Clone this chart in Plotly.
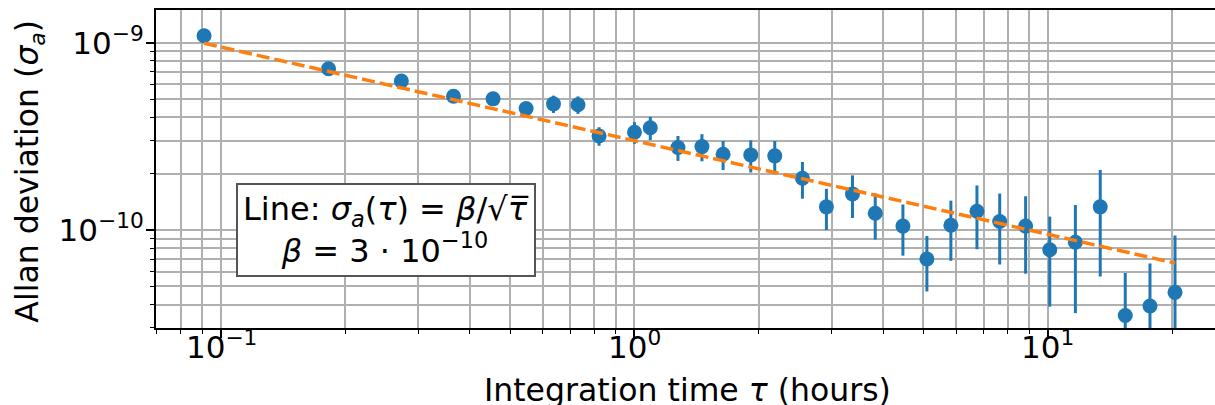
import numpy as np
import plotly.graph_objects as go

# ---- data ----
tau_hours = [0.091, 0.182, 0.273, 0.365, 0.455, 0.547, 0.637, 0.73, 0.821,
             1.0, 1.092, 1.274, 1.456, 1.638, 1.911, 2.184, 2.548, 2.912,
             3.367, 3.822, 4.459, 5.096, 5.824, 6.734, 7.644, 8.83, 10.1,
             11.65, 13.38, 15.38, 17.65, 20.29]
allan_dev = [1.09e-9, 7.26e-10, 6.25e-10, 5.18e-10, 5.02e-10, 4.46e-10,
             4.72e-10, 4.67e-10, 3.18e-10, 3.33e-10, 3.52e-10, 2.76e-10,
             2.79e-10, 2.54e-10, 2.52e-10, 2.49e-10, 1.89e-10, 1.33e-10,
             1.56e-10, 1.23e-10, 1.05e-10, 7.0e-11, 1.06e-10, 1.26e-10,
             1.11e-10, 1.05e-10, 7.85e-11, 8.6e-11, 1.33e-10, 3.5e-11,
             3.93e-11, 4.65e-11]
allan_err = [0.4e-10, 0.3e-10, 0.3e-10, 0.3e-10, 0.3e-10, 0.3e-10, 0.5e-10,
             0.5e-10, 0.36e-10, 0.44e-10, 0.5e-10, 0.42e-10, 0.46e-10,
             0.45e-10, 0.49e-10, 0.5e-10, 0.42e-10, 0.33e-10, 0.40e-10,
             0.34e-10, 0.32e-10, 0.23e-10, 0.375e-10, 0.47e-10, 0.455e-10,
             0.465e-10, 0.395e-10, 0.5e-10, 0.765e-10, 0.24e-10, 0.27e-10,
             0.47e-10]
BETA = 3e-10
fit_tau = [tau_hours[0], tau_hours[-1]]

x_tickvals = [0.1, 1, 10]
x_ticktext = ["10<sup>−1</sup>", "10<sup>0</sup>", "10<sup>1</sup>"]
y_tickvals = [1e-10, 1e-9]
y_ticktext = ["10<sup>−10</sup>", "10<sup>−9</sup>"]

x_title = "Integration time <i>τ</i> (hours)"
y_title = "Allan deviation (<i>σ<sub>a</sub></i>)"
box_text = ("Line: <i>σ<sub>a</sub></i>(<i>τ</i>) = <i>β</i>/√<i>τ̅</i><br>"
            "<i>β</i> = 3 · 10<sup>−10</sup>")

FONT = "DejaVu Sans"
BLUE = "#1f77b4"
ORANGE = "#ff7f0e"
GRID = "#b0b0b0"

fit_vals = [BETA / np.sqrt(t) for t in fit_tau]

fig = go.Figure()
fig.add_trace(go.Scatter(
    x=tau_hours, y=allan_dev, mode="markers",
    marker=dict(color=BLUE, size=15),
    error_y=dict(type="data", array=allan_err, visible=True,
                 color=BLUE, thickness=3, width=0),
    showlegend=False,
))
fig.add_trace(go.Scatter(
    x=fit_tau, y=fit_vals, mode="lines",
    line=dict(color=ORANGE, width=3.5, dash="13px,5px"),
    showlegend=False,
))

minor_x = [k * 10.0 ** e for e in (-2, -1, 0, 1) for k in range(2, 10)]
minor_y = [k * 10.0 ** e for e in (-12, -11, -10, -9) for k in range(2, 10)]

fig.update_xaxes(
    type="log", range=[-1.1572, 1.404],
    tickmode="array", tickvals=x_tickvals,
    ticks="outside", ticklen=8, tickwidth=1.5, tickcolor="black",
    showticklabels=False,
    showgrid=True, gridcolor=GRID, gridwidth=1.5,
    minor=dict(tickmode="array", tickvals=minor_x, ticks="outside",
               ticklen=4, tickwidth=1.2, tickcolor="black",
               showgrid=True, gridcolor=GRID, gridwidth=1.5),
    showline=True, linecolor="black", linewidth=2, mirror=True,
    zeroline=False,
)
fig.update_yaxes(
    type="log", range=[-10.523, -8.825],
    tickmode="array", tickvals=y_tickvals, ticktext=y_ticktext,
    ticks="outside", ticklen=8, tickwidth=1.5, tickcolor="black",
    ticklabelstandoff=-4,
    showgrid=True, gridcolor=GRID, gridwidth=1.5,
    minor=dict(tickmode="array", tickvals=minor_y, ticks="outside",
               ticklen=4, tickwidth=1.2, tickcolor="black",
               showgrid=True, gridcolor=GRID, gridwidth=1.5),
    showline=True, linecolor="black", linewidth=2, mirror=False,
    zeroline=False,
    tickfont=dict(family=FONT, size=31, color="black"),
)

# x tick labels (placed as text at the decade ticks)
for v, t in zip(x_tickvals, x_ticktext):
    fig.add_annotation(
        xref="x", yref="paper", x=np.log10(v), y=-0.053,
        xanchor="center", yanchor="middle", showarrow=False,
        text=t, font=dict(family=FONT, size=31, color="black"),
    )

# axis titles
fig.add_annotation(
    xref="paper", yref="paper", x=0.502, y=-0.196,
    xanchor="center", yanchor="middle", showarrow=False,
    text=x_title, font=dict(family=FONT, size=31.5, color="black"),
)
fig.add_annotation(
    xref="paper", yref="paper", x=-0.119, y=0.4947,
    xanchor="center", yanchor="middle", showarrow=False, textangle=-90,
    text=y_title, font=dict(family=FONT, size=31.5, color="black"),
)

fig.add_annotation(
    xref="paper", yref="paper", x=0.2175, y=0.307,
    xanchor="center", yanchor="middle", align="center",
    text=box_text, showarrow=False,
    font=dict(family=FONT, size=32, color="black"),
    bgcolor="white", bordercolor="#555555", borderwidth=2, borderpad=5,
)

fig.update_layout(
    width=1215, height=405,
    margin=dict(l=156, r=0, t=10, b=77, autoexpand=False),
    paper_bgcolor="white", plot_bgcolor="white",
    font=dict(family=FONT, color="black"),
)

fig.write_html("out.html")
